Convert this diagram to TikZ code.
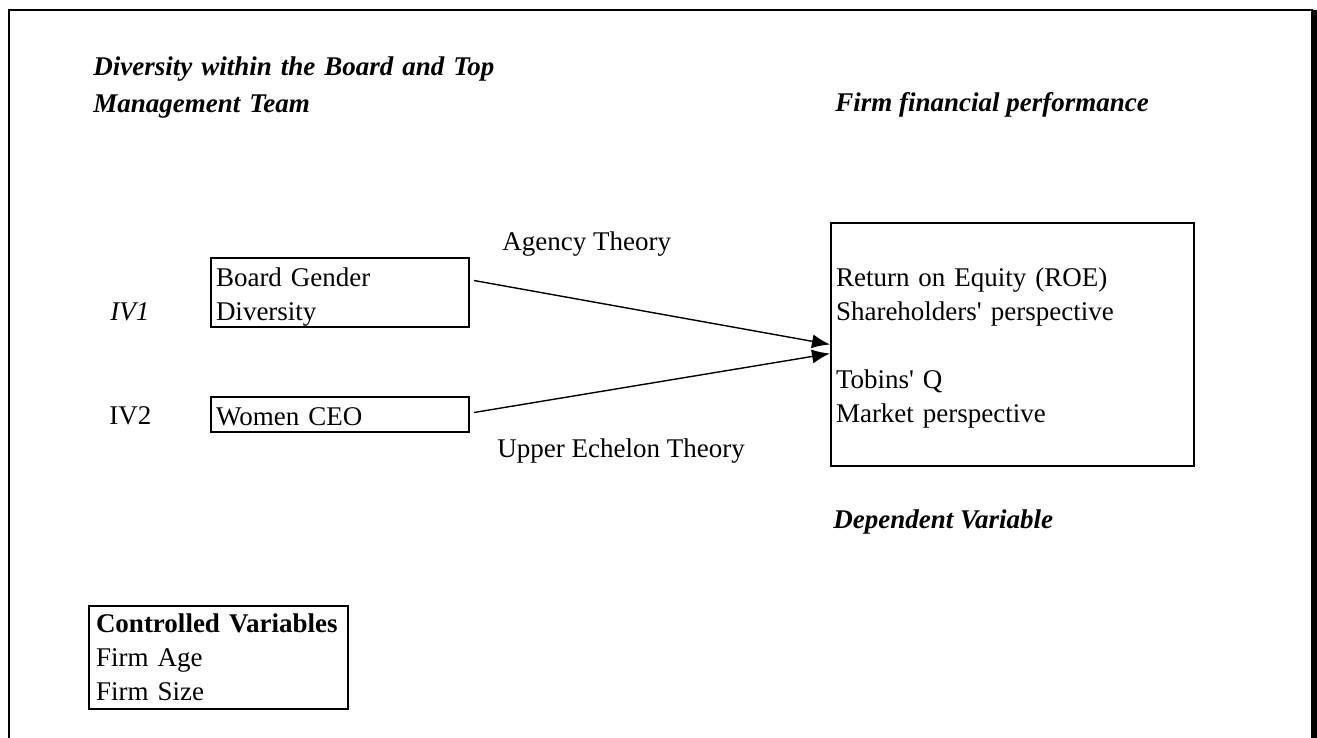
\documentclass[tikz,border=0pt]{standalone}
\usepackage{fontspec}
\setmainfont{Liberation Serif}
\usetikzlibrary{arrows.meta}

\tikzset{
  varbox/.style={draw, line width=1pt, anchor=north west, align=left, inner xsep=2.5pt, inner ysep=0pt},
  lbl/.style={anchor=base west, inner sep=0pt},
  head/.style={lbl, font=\fontsize{13.5}{18}\selectfont\bfseries\itshape},
  link/.style={line width=0.7pt, -{Latex[length=9pt,width=7pt]}}
}

\begin{document}
\begin{tikzpicture}[x=0.5pt, y=-0.5pt, font=\fontsize{13.5}{17}\selectfont]
\useasboundingbox (0,0) rectangle (1317,738);
% frame
\draw[line width=1pt] (9,738) -- (9,10) -- (1313,10);
\fill (1311,10) rectangle (1317,738);

% headings
\node[head, text width=210pt, align=left] (ivhead) at (93,76) {Diversity within the Board and Top\\ Management Team};
\node[head] (dvhead) at (835,112) {Firm financial performance};
\node[head] (dvlabel) at (833,528) {Dependent Variable};

% independent variables
\node[lbl, font=\fontsize{13.5}{17}\selectfont\itshape] (iv1) at (110,320) {IV1};
\node[lbl] (iv2) at (109,424) {IV2};
\node[varbox, text width=124pt, text height=14.35pt, text depth=20.15pt] (board) at (210,257) {Board Gender\\ Diversity};
\node[varbox, text width=124pt, text height=14pt, text depth=3.5pt] (ceo) at (210,396) {Women CEO};

% dependent variable
\node[varbox, text width=176.5pt, text height=31.5pt, text depth=90pt] (dv) at (830,222)
  {Return on Equity (ROE)\\ Shareholders\textquotesingle{} perspective\\[17pt] Tobins\textquotesingle{} Q\\ Market perspective};

% theories
\node[lbl] (agency) at (502,250) {Agency Theory};
\node[lbl] (upper) at (497,457) {Upper Echelon Theory};
\draw[link] ([xshift=2pt,yshift=6pt]board.east) -- (dv.west);
\draw[link] ([xshift=2pt,yshift=1pt]ceo.east) -- ([yshift=-4.5pt]dv.west);

% controls
\node[varbox, inner xsep=3.5pt, text width=122.5pt, text height=13.35pt, text depth=38.15pt] (ctrl) at (88,605)
  {\textbf{Controlled Variables}\\ Firm Age\\ Firm Size};
\end{tikzpicture}
\end{document}
